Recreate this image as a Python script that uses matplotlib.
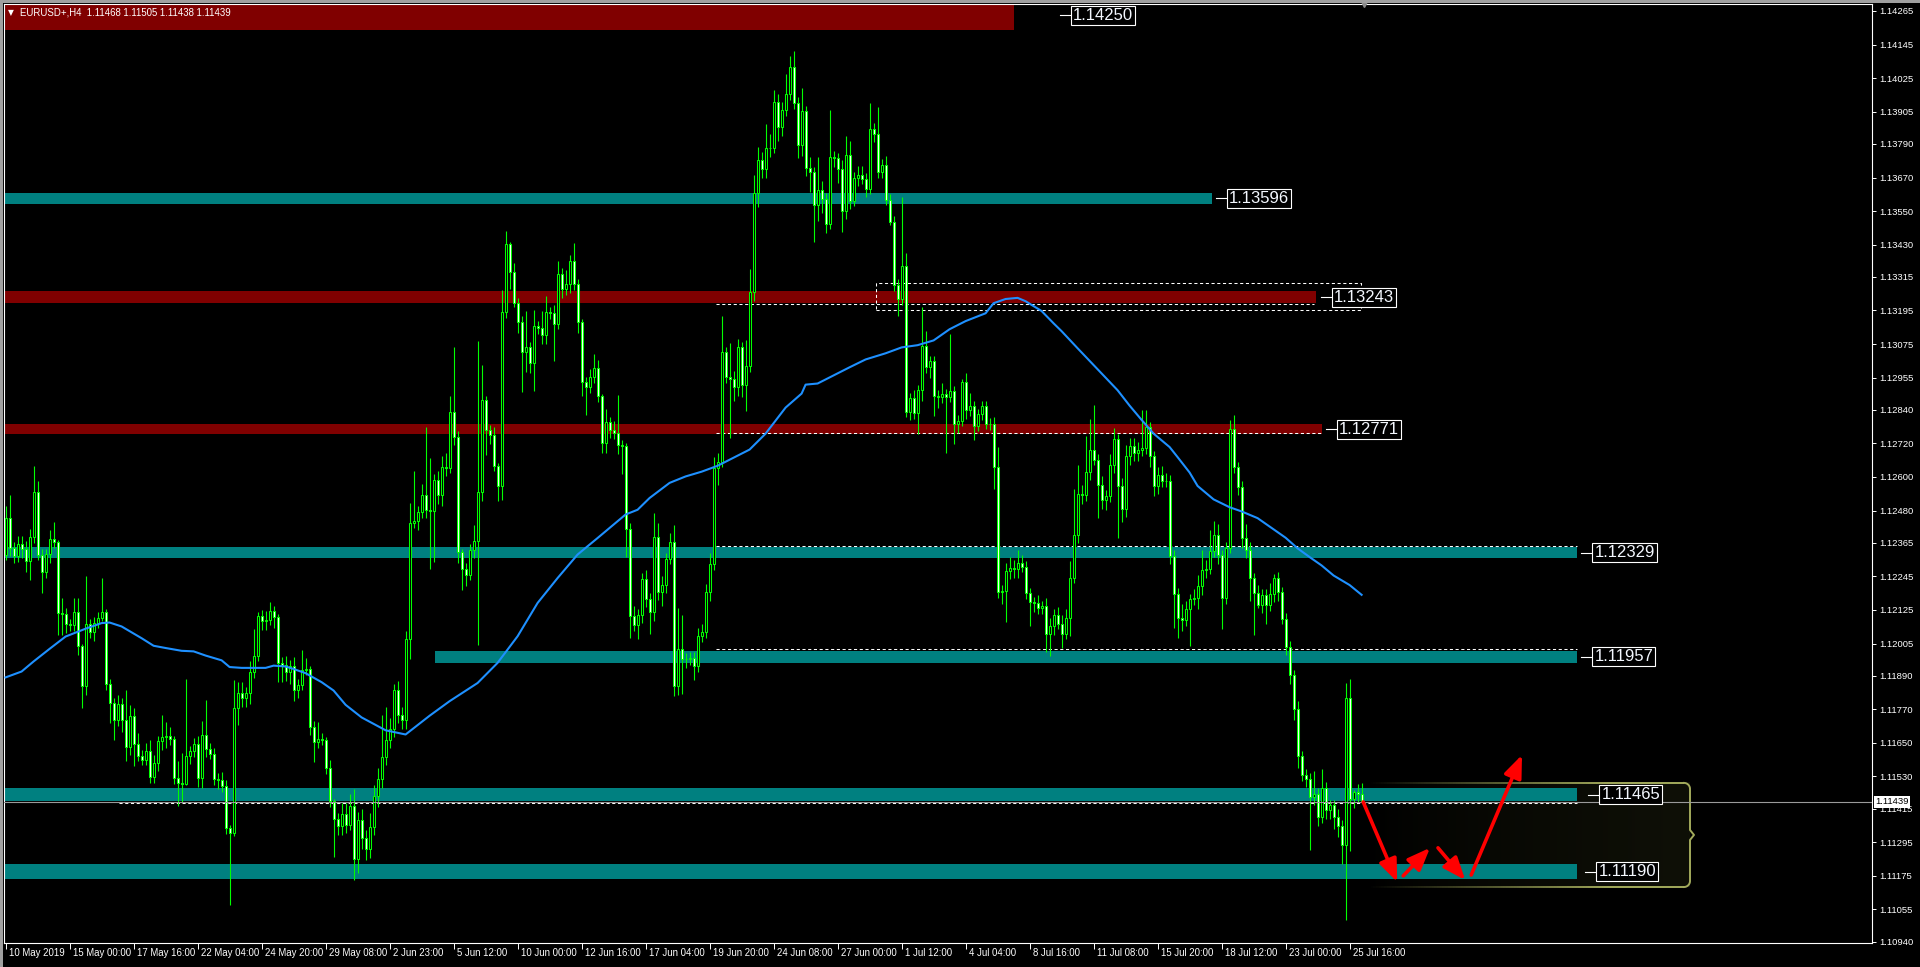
import numpy as np
import matplotlib.pyplot as plt
from matplotlib.patches import Rectangle
from matplotlib.collections import LineCollection
from matplotlib.transforms import blended_transform_factory

plt.rcParams['font.family'] = ['Liberation Sans', 'DejaVu Sans']

# ---------- data: prices as pips above 1.1000 ----------
first_open = 232.2
closes = [
    245.3, 234.6, 231.8, 236.0, 234.2, 230.1, 238.5, 254.6, 232.2, 225.9,
    232.4, 237.8, 236.6, 211.4, 211.1, 207.4, 207.0, 211.7, 199.5, 185.5,
    207.4, 204.5, 208.0, 209.6, 211.7, 186.0, 179.2, 173.0, 179.0, 173.0,
    163.5, 174.5, 164.6, 160.4, 159.0, 162.0, 152.8, 157.8, 165.5, 167.1,
    167.6, 166.4, 152.4, 150.7, 150.4, 160.4, 162.0, 164.6, 152.4, 167.7,
    162.8, 161.1, 152.1, 151.6, 149.5, 134.6, 132.8, 177.4, 182.8, 181.0,
    182.8, 190.2, 196.2, 210.4, 208.4, 209.0, 212.0, 209.9, 193.7, 192.9,
    190.2, 192.6, 184.0, 185.8, 191.1, 191.4, 170.7, 165.3, 166.4, 166.1,
    156.0, 144.1, 137.8, 135.2, 139.6, 135.8, 142.6, 123.5, 137.3, 131.0,
    127.0, 135.0, 146.0, 152.0, 160.0, 166.0, 170.0, 184.0, 175.0, 173.0,
    202.0, 243.6, 244.2, 247.5, 253.7, 248.3, 248.0, 259.0, 253.5, 263.6,
    263.3, 283.2, 274.3, 233.2, 227.1, 225.1, 234.0, 237.0, 254.6, 287.6,
    276.7, 274.9, 264.0, 256.7, 318.9, 343.3, 333.2, 322.1, 315.4, 304.6,
    306.4, 300.7, 313.8, 313.2, 310.6, 318.9, 318.6, 314.8, 332.5, 327.1,
    328.9, 337.3, 328.9, 315.4, 293.9, 292.1, 295.7, 298.9, 288.8, 272.1,
    279.6, 276.9, 275.7, 271.3, 271.0, 241.4, 210.2, 207.0, 210.8, 223.6,
    216.4, 211.7, 238.6, 218.9, 221.5, 230.8, 236.8, 185.2, 198.7, 195.0,
    194.8, 195.4, 192.4, 203.1, 204.5, 218.8, 228.9, 263.3, 265.5, 304.5,
    295.6, 294.9, 292.0, 306.3, 292.7, 299.6, 326.0, 361.3, 373.1, 369.9,
    377.4, 377.6, 393.9, 385.0, 391.0, 396.7, 406.5, 393.6, 378.8, 390.6,
    370.5, 368.8, 357.3, 362.7, 359.4, 350.5, 374.5, 373.8, 370.2, 355.1,
    375.2, 358.7, 367.0, 368.0, 366.6, 363.0, 384.5, 382.7, 368.8, 371.6,
    359.1, 351.2, 328.6, 323.6, 335.3, 283.4, 288.1, 282.7, 291.0, 306.8,
    299.2, 301.3, 289.1, 288.5, 289.6, 288.7, 290.6, 278.8, 280.1, 294.1,
    283.8, 285.3, 278.4, 282.4, 285.3, 279.1, 278.8, 263.7, 218.8, 219.3,
    226.4, 227.4, 227.0, 229.3, 227.9, 218.4, 215.2, 214.9, 213.1, 213.8,
    203.9, 206.7, 210.7, 207.6, 204.0, 209.7, 224.0, 239.3, 254.0, 253.4,
    261.9, 269.8, 266.2, 257.2, 251.7, 253.2, 264.3, 273.4, 256.8, 248.6,
    267.4, 271.1, 268.6, 269.5, 270.3, 277.7, 267.4, 256.8, 260.8, 258.4,
    258.6, 231.8, 218.2, 209.7, 208.9, 212.7, 216.3, 216.9, 220.9, 226.9,
    227.2, 233.5, 239.3, 232.0, 216.7, 234.8, 277.3, 263.4, 256.4, 238.1,
    233.9, 223.8, 218.4, 214.3, 217.9, 214.3, 218.2, 224.0, 218.8, 209.3,
    199.4, 189.2, 177.1, 160.2, 153.5, 152.1, 145.7, 146.9, 138.4, 148.9,
    140.9, 142.7, 138.4, 135.4, 128.4, 181.1, 144.8, 147.3, 146.8, 143.9,
]
# upper / lower wick lengths (pips)
up = [
    4.2, 8.3, 2, 3, 3, 3, 3, 9.2, 4, 2,
    2, 3.3, 6, 1, 5.4, 2, 2, 5, 5.2, 1,
    17.3, 2, 2, 2, 12.3, 1, 2, 2, 3, 2,
    11, 4, 3, 4, 2, 3, 4, 3, 2, 8,
    5, 3, 1, 6, 10.7, 27.4, 2, 2, 3, 5,
    12.7, 2, 2, 2, 3, 2.4, 1, 10, 4, 4,
    2, 4, 9.5, 1.5, 2, 3, 3.3, 2, 1, 2,
    3, 2, 3, 2, 7, 4, 1, 2, 6, 2,
    1, 3, 1, 2, 4, 4, 4, 6, 3, 4,
    3, 5, 4, 4, 15, 12, 4, 2, 3, 3,
    3, 7.1, 17.9, 2, 3.8, 24, 18.5, 2, 3, 4,
    5, 5.6, 23.3, 2, 1, 2, 2, 5.7, 54, 12.4,
    1.5, 2, 3, 1, 8, 4.6, 0.6, 3.2, 2, 2,
    13, 2, 6, 2, 6, 5.6, 2, 3, 4.8, 2,
    5, 2, 6.3, 2, 1, 2, 3, 5, 3, 1,
    4.8, 2, 3, 13.5, 2, 1, 2, 3.6, 2, 2,
    3, 2, 8.6, 5, 3, 2, 3.2, 6, 14.5, 12,
    2, 2, 2, 3, 3, 3, 4, 4, 3, 12.9,
    2, 12.3, 3, 3, 2, 9.2, 8.3, 6.7, 4.7, 3,
    8.6, 5, 4.3, 3, 3, 7.2, 3.9, 5.6, 2, 8.3,
    2, 4, 2, 11.5, 3, 2, 16.5, 2, 2, 3,
    6.5, 5, 2, 3, 3, 2, 9, 2, 9.5, 2,
    3, 2, 2, 2, 24.8, 4.6, 2, 3, 2, 13.9,
    5.3, 2, 2, 2, 4, 2, 20.5, 2, 2, 1,
    3, 4.6, 2, 2, 2, 2, 2, 2.6, 7, 2,
    3, 4, 3, 4.6, 3, 2, 2, 2, 3, 2,
    3, 3, 2, 3, 3, 3, 6, 16.3, 10.4, 3,
    12.7, 11, 16, 2, 3, 2, 4, 4, 2, 3,
    4, 3, 3, 3, 13.6, 6.3, 2, 2, 2.7, 3,
    3, 2, 2, 2, 5, 3, 2, 3, 4, 7,
    3, 7.6, 4.8, 4, 2, 2, 3, 4.8, 2, 2,
    5, 3, 2, 3, 2, 2, 4, 1.5, 2, 2,
    2, 2, 2, 3, 2, 2, 2, 8, 2, 6.8,
    2, 2, 2, 3, 2, 5.3, 6.9, 1, 3, 3.7,
]
dn = [
    2, 3, 2.6, 2, 3, 4, 7, 2, 2, 7.4,
    2, 3, 2, 7.7, 7.5, 3, 2, 2, 3, 7.9,
    3.3, 2, 3, 2, 1, 2, 7, 7, 2, 4,
    5, 3, 8, 2, 2, 2, 2, 2, 3, 3,
    4, 2, 2, 8.3, 6.5, 0.5, 3, 2, 3, 3.6,
    3, 2, 2, 3, 2, 2, 25.6, 1, 6, 3,
    3, 4, 2, 2, 3, 3, 2, 4, 7, 6,
    3, 4, 4, 3, 2, 2, 3, 7, 2, 2,
    2, 2, 13.6, 3, 3, 3, 2, 7.4, 5, 4,
    4, 3, 3, 4, 3, 3, 3, 3, 3, 3,
    3, 7.1, 2, 3, 2, 3, 20.8, 18.5, 3, 4,
    3, 2, 3, 4, 7.4, 4, 2, 3, 36.9, 3,
    9, 3, 2, 5.4, 5, 2, 6, 1.4, 4, 14.4,
    7, 3.6, 10, 2, 3, 3, 2, 13.5, 2, 3,
    2, 3, 2, 4, 4.8, 10, 2, 2, 2, 3.6,
    3.6, 3, 2, 3, 10, 10, 7.7, 2, 5, 3,
    3, 7.9, 3, 3, 5, 3, 2, 3.6, 3, 12.6,
    3, 2, 5, 2, 2, 2, 3, 2, 6, 2,
    2, 21, 5, 3, 4, 9, 2, 3, 5, 3,
    3, 3, 2, 5, 3, 2, 2, 2, 5, 4,
    3, 7, 13.2, 6, 5, 3.3, 2, 3, 5, 7.6,
    3, 3, 2, 3, 2, 3, 2, 3, 2, 2,
    2, 1, 2, 6, 2, 2, 3, 2, 7.2, 4,
    2, 4, 7.2, 4, 2, 20, 2, 7, 3, 2,
    3, 2, 5.3, 2, 2, 2, 2, 8, 2, 4,
    11, 3, 3, 3, 2, 2, 8.6, 3, 2, 2,
    6.4, 8, 3, 2, 5, 2, 6.6, 2, 3, 3,
    2, 3, 2, 11.8, 3, 3.6, 2, 3, 18.6, 4.7,
    3, 3, 3, 3, 2, 2, 4, 3.6, 3, 2,
    2, 3, 12, 7.2, 4, 2, 13, 2, 4, 3,
    3, 2, 2, 3, 11, 2, 2, 2, 3, 3.6,
    3, 8, 14.7, 1, 3, 7, 2, 3, 3, 2,
    3, 3, 4, 4, 2, 3, 19, 3, 3, 2,
    3, 3, 4, 4, 6.5, 26.8, 18.4, 3, 3, 0.1,
]

# moving average (bar index, pips)
ma_bar = [0, 4, 7, 11, 15, 20, 24, 26, 29, 34, 37, 40, 44, 47, 50, 54, 56, 59,
          65, 67, 70, 72, 75, 79, 82, 85, 89, 95, 100, 106, 111, 118, 123, 128,
          133, 138, 143, 148, 153, 155, 158, 161, 166, 170, 174, 178, 182, 186,
          190, 195, 199, 200, 203, 207, 211, 215, 220, 224, 228, 232, 236, 240,
          245, 247, 250, 253, 255, 259, 262, 264, 268, 274, 278, 281, 284, 287,
          291, 293, 296, 298, 302, 306, 309, 313, 316, 320, 323, 326, 329, 332,
          336, 339]
ma_val = [188.4, 190.5, 194.1, 198.6, 203.0, 205.8, 207.8, 208.0, 206.6, 202.4,
          199.7, 198.9, 197.9, 197.7, 196.2, 194.5, 192.1, 191.8, 191.8, 192.6,
          192.3, 191.4, 189.9, 186.7, 183.7, 178.6, 174.1, 169.5, 168.0, 174.7,
          179.9, 186.4, 193.6, 203.1, 215.0, 223.9, 232.3, 238.2, 244.2, 246.6,
          248.3, 252.5, 257.9, 260.2, 261.9, 264.0, 266.9, 269.8, 275.5, 284.8,
          289.8, 293.0, 293.4, 296.3, 299.2, 302.0, 304.2, 306.3, 307.1, 308.8,
          312.8, 315.7, 318.5, 322.1, 323.6, 324.0, 322.8, 319.3, 314.9, 312.1,
          306.0, 297.0, 291.0, 285.5, 280.4, 275.5, 270.7, 267.1, 261.6, 256.8,
          252.0, 249.2, 247.7, 245.3, 242.3, 238.3, 234.5, 231.4, 228.4, 224.8,
          221.4, 217.9]

y_ticks = [1.14265, 1.14145, 1.14025, 1.13905, 1.13790, 1.13670, 1.13550,
           1.13430, 1.13315, 1.13195, 1.13075, 1.12955, 1.12840, 1.12720,
           1.12600, 1.12480, 1.12365, 1.12245, 1.12125, 1.12005, 1.11890,
           1.11770, 1.11650, 1.11530, 1.11415, 1.11295, 1.11175, 1.11055,
           1.10940]
x_labels = ["10 May 2019", "15 May 00:00", "17 May 16:00", "22 May 04:00",
            "24 May 20:00", "29 May 08:00", "2 Jun 23:00", "5 Jun 12:00",
            "10 Jun 00:00", "12 Jun 16:00", "17 Jun 04:00", "19 Jun 20:00",
            "24 Jun 08:00", "27 Jun 00:00", "1 Jul 12:00", "4 Jul 04:00",
            "8 Jul 16:00", "11 Jul 08:00", "15 Jul 20:00", "18 Jul 12:00",
            "23 Jul 00:00", "25 Jul 16:00"]
header = "EURUSD+,H4  1.11468 1.11505 1.11438 1.11439"
last_price = 1.11439

# zones: price, half height, first bar, last bar, colour, label gap (px)
zones = [
    (1.14250, 0.00053, -1, 252.1, '#800000', 57),
    (1.13596, 0.00020, -1, 301.6, '#008080', 15),
    (1.13243, 0.00020, -1, 327.6, '#800000', 16),
    (1.12771, 0.00019, -1, 329.1, '#800000', 15),
    (1.12329, 0.00020, -1, 392.9, '#008080', 15),
    (1.11957, 0.00021, 107.4, 392.9, '#008080', 15),
    (1.11465, 0.00023, -1, 392.9, '#008080', 22),
    (1.11190, 0.00028, -1, 392.9, '#008080', 19),
]
# dashed guide lines: price, first bar, last bar
dashes = [
    (1.12352, 177.6, 392.9),
    (1.11984, 177.6, 392.9),
    (1.12757, 177.6, 329.1),
    (1.13218, 177.6, 327.1),
    (1.11436, 28.4, 392.9),
]
dash_box = (217.6, 338.9, 1.13197, 1.13293)
# red scenario arrows: bar0, price0, bar1, price1
arrows = [
    (339.4, 1.11439, 347.9, 1.11153),
    (349.4, 1.11175, 356.1, 1.11275),
    (358.1, 1.11275, 364.9, 1.11160),
    (366.4, 1.11178, 379.1, 1.11607),
]
zone_box = (340.6, 421.1, 1.11135, 1.11507)

# ---------- figure ----------
W, H = 1920, 967
LIME = '#00ff00'
fig = plt.figure(figsize=(W / 100, H / 100), dpi=100, facecolor='black')
ax = fig.add_axes([4 / W, (H - 943) / H, (1872 - 4) / W, (943 - 4) / H])
ax.set_facecolor('black')
x_lo, x_hi = -0.4, 466.6
y_lo, y_hi = 1.10935, 1.14290
PXX = (1872 - 4) / (x_hi - x_lo)        # px per bar
PXY = (943 - 4) / (y_hi - y_lo)         # px per price unit

# zones
for p, h, b0, b1, col, gap in zones:
    ax.add_patch(Rectangle((max(b0, x_lo), p - h), b1 - max(b0, x_lo), 2 * h,
                           color=col, lw=0, zorder=2))
    ax.plot([b1 + (gap - 11) / PXX, b1 + (gap - 1) / PXX], [p, p], color='white',
            lw=0.8, zorder=8)
    ax.annotate(f"{p:.5f}", xy=(b1, p), xytext=(gap * 0.72 + 1.5, 0),
                textcoords='offset points', ha='left', va='center',
                fontsize=12, color='#f4f8ff', zorder=9,
                bbox=dict(boxstyle='square,pad=0.12', fc='black', ec='white', lw=0.8))

# zone box with fading fill
x0, x1, zb, zt = zone_box
grad = np.zeros((1, 256, 4))
grad[..., 0], grad[..., 1], grad[..., 2] = 0.06, 0.065, 0.03
grad[..., 3] = np.linspace(0, 1, 256) ** 0.7
ax.imshow(grad, extent=[x0, x1, zb, zt], aspect='auto', zorder=1.5,
          interpolation='bilinear')
OLIVE = np.array([0.64, 0.67, 0.36])
r_x, r_y = 6 / PXX, 6 / PXY
xs = np.linspace(x0, x1 - r_x, 120)
alpha = np.clip((xs - x0) / ((x1 - x0) * 0.75), 0, 1)
for yy in (zt, zb):
    segs = [[(xs[k], yy), (xs[k + 1], yy)] for k in range(len(xs) - 1)]
    cols = [(*OLIVE, alpha[k]) for k in range(len(xs) - 1)]
    ax.add_collection(LineCollection(segs, colors=cols, lw=1.4, zorder=3))
t = np.linspace(0, np.pi / 2, 12)
mid = (zt + zb) / 2
bx = np.r_[x1 - r_x + r_x * np.sin(t), x1, x1 + 4 / PXX, x1,
           x1 - r_x + r_x * np.cos(t)]
by = np.r_[zt - r_y + r_y * np.cos(t), mid + 5 / PXY, mid, mid - 5 / PXY,
           zb + r_y - r_y * np.sin(t)]
ax.plot(bx, by, color=OLIVE, lw=1.4, zorder=3)

# dashed guide lines
for p, b0, b1 in dashes:
    ax.plot([b0, b1], [p, p], color='white', lw=0.75, ls=(0, (3, 2.5)), zorder=4)
bx0, bx1, by0, by1 = dash_box
ax.plot([bx0, bx1, bx1, bx0, bx0], [by0, by0, by1, by1, by0], color='white',
        lw=0.75, ls=(0, (3, 2.5)), zorder=4)

# candles
c = 1.1 + np.array(closes) / 1e4
o = np.r_[1.1 + first_open / 1e4, c[:-1]]
hi = np.maximum(o, c) + np.array(up) / 1e4
lo = np.minimum(o, c) - np.array(dn) / 1e4
idx = np.arange(len(c))
ax.vlines(idx, lo, hi, color=LIME, lw=0.8, zorder=5)
ax.bar(idx, np.maximum(np.abs(c - o), 0.00003), bottom=np.minimum(o, c),
       width=0.5, color=np.where(c >= o, 'black', 'white'), edgecolor=LIME,
       linewidth=0.75, zorder=6)

# moving average
ax.plot(ma_bar, 1.1 + np.array(ma_val) / 1e4, color='#1e90ff', lw=1.5, zorder=7)

# last price line
ax.axhline(last_price, color='#9a9a9a', lw=0.8, zorder=8)

# arrows
for a0, p0, a1, p1 in arrows:
    ax.annotate('', xy=(a1, p1), xytext=(a0, p0), zorder=10,
                arrowprops=dict(arrowstyle='-|>,head_length=0.8,head_width=0.32',
                                mutation_scale=17, color='#ff0000', lw=2.6,
                                shrinkA=0, shrinkB=0))

# axes
ax.set_xlim(x_lo, x_hi)
ax.set_ylim(y_lo, y_hi)
for s in ax.spines.values():
    s.set_color('white')
    s.set_linewidth(0.8)
ax.yaxis.tick_right()
ax.set_yticks(y_ticks)
ax.set_yticklabels([f"{v:.5f}" for v in y_ticks])
ax.tick_params(axis='y', colors='white', labelsize=6.8, length=3, width=0.7, pad=2)
ax.set_xticks(np.arange(len(x_labels)) * 16)
ax.set_xticklabels([])
ax.tick_params(axis='x', colors='white', length=4, width=0.7)
for k, lab in enumerate(x_labels):
    ax.annotate(lab, xy=(k * 16, 0), xycoords=('data', 'axes fraction'),
                xytext=(2.5, -7), textcoords='offset points', ha='left',
                va='center', fontsize=6.9, color='white', annotation_clip=False)

ax.annotate(f"{last_price:.5f}", xy=(1, last_price), xycoords=('axes fraction', 'data'),
            xytext=(2.5, 0), textcoords='offset points', ha='left', va='center',
            fontsize=6.8, color='black', annotation_clip=False, zorder=11,
            bbox=dict(boxstyle='square,pad=0.15', fc='white', ec='white', lw=0))

ax.plot([len(c) - 0.5], [1], marker='v', ms=5, color='#8a8a8a',
        transform=blended_transform_factory(ax.transData, ax.transAxes),
        clip_on=False, zorder=12)

# window chrome and header
fig.add_artist(Rectangle((0, 1 - 3 / H), 1, 3 / H, transform=fig.transFigure,
                         color='#a0a0a0', lw=0))
fig.add_artist(Rectangle((0, 0), 3 / W, 1, transform=fig.transFigure,
                         color='#a0a0a0', lw=0))
fig.text(8 / W, 1 - 13 / H, '\u25bc', fontsize=5.5, color='white', va='center',
         family=['DejaVu Sans'])
fig.text(20 / W, 1 - 12.5 / H, header, fontsize=6.9, color='white', va='center')

fig.savefig('out.png', dpi=100, facecolor='black')
